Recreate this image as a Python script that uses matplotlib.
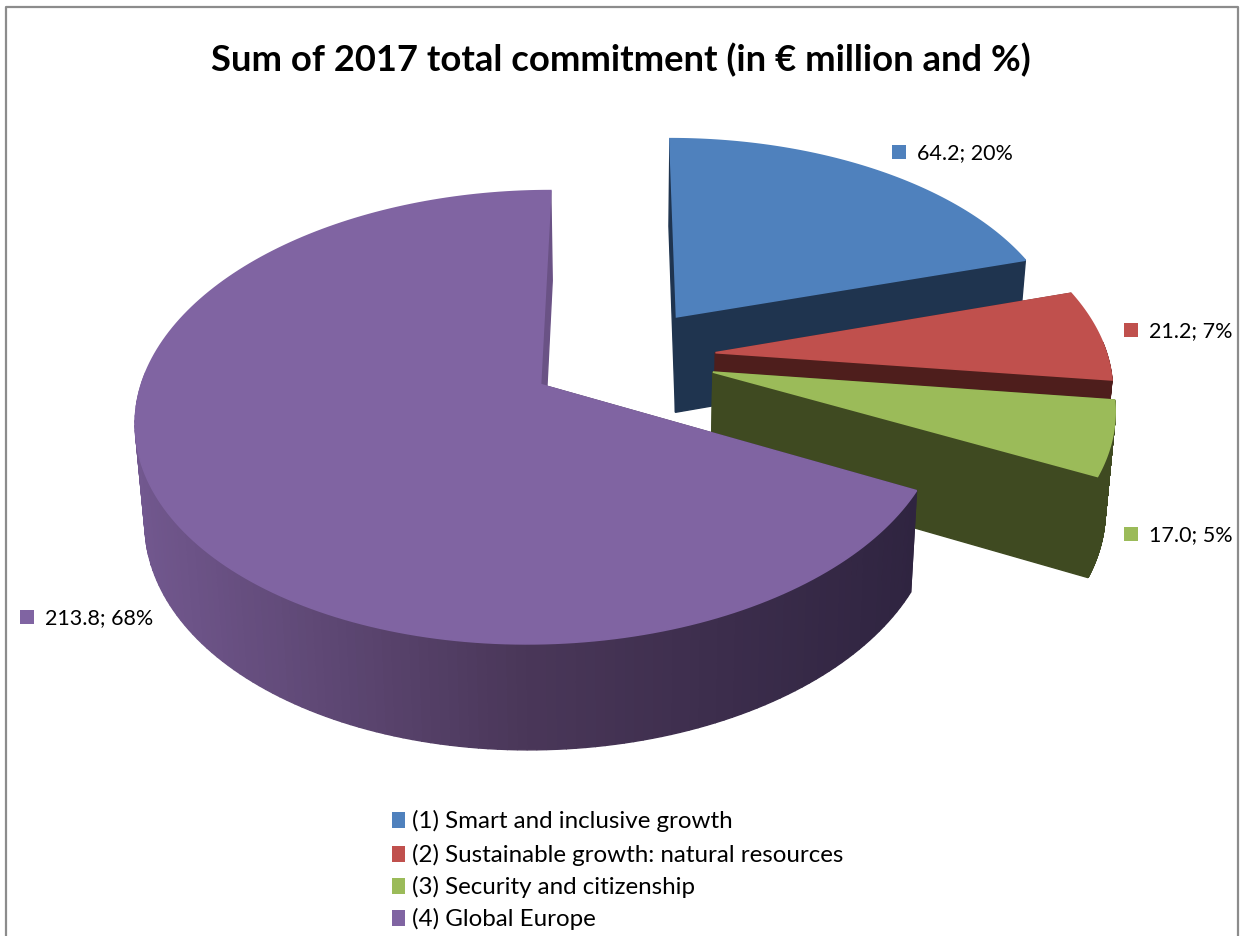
import numpy as np
import matplotlib
matplotlib.use("Agg")
import matplotlib.pyplot as plt
from matplotlib.colors import LinearSegmentedColormap

#values
categories = ["(1) Smart and inclusive growth", "(2) Sustainable growth: natural resources",
              "(3) Security and citizenship", "(4) Global Europe"]
values = [64.2, 21.2, 17.0, 213.8]
percents = [20, 7, 5, 68]
title = "Sum of 2017 total commitment (in € million and %)"

top_colors = ["#4f81bd", "#c0504d", "#9bbb59", "#8064a2"]
start_wall_colors = ["#1f344f", "#4e1e1c", "#3f4a21", "#33263f"]
end_wall_colors = ["#1f344f", "#4e1e1c", "#3f4a21", "#6a5285"]
rim_colors = ["#1f344f", "#4e1e1c", "#3f4a21", None]
label_pos = [(892, 153), (1124, 331), (1124, 535), (20, 618)]
legend_y = [821, 855, 887, 919]

#fake 3d perspective, pie plane to pixels
cx, cy = 622, 358
R, A, P = 392, 214, 0.142
explode = 0.24
shrink = 0.98
font = "Lato"


def project(u, v):
    w = 1 + P * v
    return cx + R * u / w, cy - A * v / w


def lower(x, y, v):
    # the bottom face of the pie, a bit narrower and lower down
    return cx + (x - cx) * shrink, y + 97 - 8 * v


def quad(ax, xs, ys, color, zorder):
    ax.fill(xs, ys, color=color, lw=1, zorder=zorder)


fig = plt.figure(figsize=(12.41, 9.37), dpi=100)
ax = fig.add_axes([0, 0, 1, 1])
ax.set_xlim(0, 1241)
ax.set_ylim(937, 0)
ax.axis("off")

purple_wall = LinearSegmentedColormap.from_list("wall", ["#72588f", "#4a3759", "#2f2440"])

angles = np.cumsum([0] + values) / sum(values) * 360
for i in range(len(values)):
    a0, a1 = np.radians(angles[i]), np.radians(angles[i + 1])
    mid = (a0 + a1) / 2
    u0, v0 = explode * np.sin(mid), explode * np.cos(mid)
    th = np.linspace(a0, a1, 200)
    u = u0 + np.sin(th)
    v = v0 + np.cos(th)
    x, y = project(u, v)
    ax0, ay0 = project(u0, v0)
    z = 2 + i * 2

    # cut faces
    bx0, by0 = lower(ax0, ay0, v0)
    bx, by = lower(x, y, v)
    quad(ax, [ax0, x[0], bx[0], bx0], [ay0, y[0], by[0], by0], start_wall_colors[i], z)
    quad(ax, [ax0, x[-1], bx[-1], bx0], [ay0, y[-1], by[-1], by0], end_wall_colors[i], z)

    # outer rim, front part only, in strips so the purple one can be shaded
    for j in range(len(th) - 1):
        if np.cos(th[j]) > 0.05:
            continue
        if i == 3:
            col = purple_wall((x[j] - 130) / 790)
        else:
            col = rim_colors[i]
        quad(ax, [x[j], x[j + 1], bx[j + 1], bx[j]], [y[j], y[j + 1], by[j + 1], by[j]], col, z)

    ax.fill(np.r_[ax0, x], np.r_[ay0, y], color=top_colors[i], lw=1.2, zorder=z + 1)

    # data label
    sx, sy = label_pos[i]
    ax.fill([sx, sx + 14, sx + 14, sx], [sy - 7, sy - 7, sy + 7, sy + 7], color=top_colors[i], lw=0, zorder=20)
    ax.text(sx + 25, sy, f"{values[i]:.1f}; {percents[i]}%", fontsize=15.5, family=font,
            va="center", ha="left", color="black", zorder=20)

# legend
for i in range(len(categories)):
    y = legend_y[i]
    ax.fill([392, 405, 405, 392], [y - 8, y - 8, y + 8, y + 8], color=top_colors[i], lw=0, zorder=20)
    ax.text(412, y, categories[i], fontsize=17.4, family=font, va="center", ha="left", color="black", zorder=20)

ax.text(621, 60, title, fontsize=26.2, family=font, fontweight="bold", ha="center", va="center", color="black")

# frame of the chart area
ax.plot([6, 6, 1238, 1238], [937, 8, 8, 937], color="#8c8c8c", lw=1.6, zorder=30)

fig.savefig("out.png", dpi=100)
